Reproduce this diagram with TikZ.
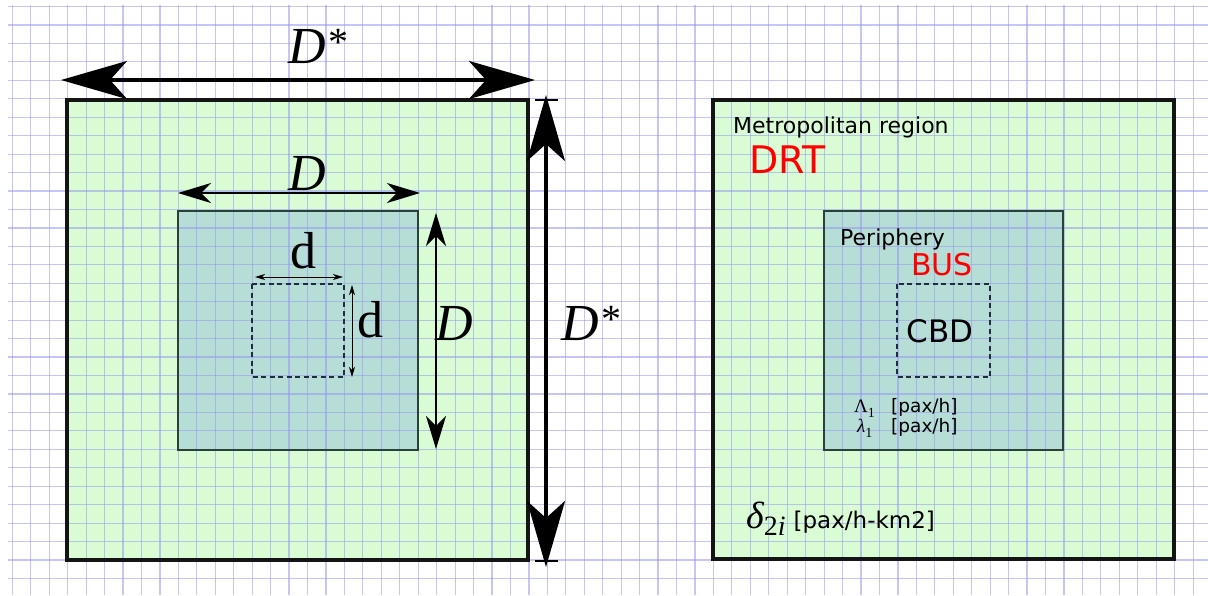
\documentclass[tikz,border=0pt]{standalone}
\usepackage{fontspec}
\setsansfont{DejaVu Sans}
\newfontfamily\timesf{Liberation Serif}
\usetikzlibrary{arrows.meta}

\definecolor{regiongreen}{RGB}{217,252,213}
\definecolor{periteal}{RGB}{182,221,214}
\definecolor{gridblue}{RGB}{150,150,240}
\definecolor{periedge}{RGB}{40,66,56}
\definecolor{cbdedge}{RGB}{30,45,60}

\newcommand\fsz[1]{\fontsize{#1}{#1}\selectfont}
\newcommand\dstar{{\itshape D}\kern3pt\raisebox{8pt}{\fsz{40}*}}

\begin{document}
\begin{tikzpicture}[x=1pt, y=-1pt,
  gridline/.style={draw=gridblue, opacity=0.55, line width=1.2pt},
  regionbox/.style={draw=black!92, line width=3.5pt},
  peribox/.style={draw=periedge, line width=2pt},
  cbdbox/.style={draw=cbdedge, line width=1.8pt, dash pattern=on 5pt off 3.5pt},
  bigdim/.style={line width=3.5pt, {Stealth[length=66pt, width=38pt, inset=17pt]}-{Stealth[length=66pt, width=38pt, inset=17pt]}},
  middim/.style={line width=2pt, {Stealth[length=33pt, width=20pt, inset=10pt]}-{Stealth[length=33pt, width=20pt, inset=10pt]}},
  smalldim/.style={line width=1pt, {Stealth[length=10pt, width=6pt, inset=3pt]}-{Stealth[length=10pt, width=6pt, inset=3pt]}},
  dimlbl/.style={font=\timesf\fsz{52}, inner sep=0pt, anchor=base west},
  lbl/.style={font=\sffamily\fsz{22}, inner sep=0pt, anchor=base west},
  mode/.style={font=\sffamily, text=red, inner sep=0pt, anchor=base west}]

  \useasboundingbox (0,0) rectangle (1208,595);

  % Fills first, the grid goes over them
  \fill[regiongreen] (67,100) rectangle (528,560);
  \fill[periteal] (178,211) rectangle (418,450);
  \fill[regiongreen] (713,100) rectangle (1174,559);
  \fill[periteal] (824,211) rectangle (1063,450);

  % Squared paper
  \foreach \k in {0,...,64}
    \draw[gridline] ({12.3+18.45*\k},5) -- ({12.3+18.45*\k},595);
  \foreach \k in {0,...,31}
    \draw[gridline] (8,{6.5+18.45*\k}) -- (1208,{6.5+18.45*\k});

  % Left panel: nested squares
  \draw[regionbox] (67,100) rectangle (528,560);
  \draw[peribox] (178,211) rectangle (418,450);
  \draw[cbdbox] (252,284) rectangle (344,377);

  % Dimension end points
  \coordinate (dstarL) at (61,80);
  \coordinate (dstarR) at (535,80);
  \coordinate (dstarT) at (546,95);
  \coordinate (dstarB) at (546,567);
  \coordinate (dL) at (178,193);
  \coordinate (dR) at (420,193);
  \coordinate (dT) at (436,213);
  \coordinate (dB) at (436,449);
  \coordinate (cL) at (255,277);
  \coordinate (cR) at (343,277);
  \coordinate (cT) at (352,285);
  \coordinate (cB) at (352,377);

  \draw[bigdim] (dstarL) -- (dstarR);
  \draw[bigdim] (dstarT) -- (dstarB);
  % end ticks of the vertical one (yshift is in page direction)
  \draw[line width=1.8pt] ([xshift=-11pt, yshift=-5pt]dstarT) -- ([xshift=12pt, yshift=-5pt]dstarT);
  \draw[line width=1.8pt] ([xshift=-11pt, yshift=6pt]dstarB) -- ([xshift=12pt, yshift=6pt]dstarB);
  \draw[middim] (dL) -- (dR);
  \draw[middim] (dT) -- (dB);
  \draw[smalldim] (cL) -- (cR);
  \draw[smalldim] (cT) -- (cB);

  \node[dimlbl] (lblDsTop) at (288,63) {\dstar};
  \node[dimlbl] (lblDsSide) at (561,340) {\dstar};
  \node[dimlbl] (lblDTop) at (288,190) {\itshape D};
  \node[dimlbl] (lblDSide) at (435,340) {\itshape D};
  \node[dimlbl] (lbldTop) at (290,268) {d};
  \node[dimlbl] (lbldSide) at (357,337) {d};

  % Right panel: regions and modes
  \draw[regionbox] (713,100) rectangle (1174,559);
  \draw[peribox] (824,211) rectangle (1063,450);
  \draw[cbdbox] (897,284) rectangle (990,377);

  \node[lbl] (metro) at (733,133) {Metropolitan region};
  \node[mode, font=\sffamily\fsz{38}] (drt) at (749,173) {DRT};
  \node[lbl] (peri) at (840,245) {Periphery};
  \node[mode, font=\sffamily\fsz{30}] (bus) at (911,275) {BUS};
  \node[font=\sffamily\fsz{31}, inner sep=0pt, anchor=base] (cbd) at (940,342) {CBD};

  \node[inner sep=0pt, anchor=base west] (flowA) at (854,412)
    {\makebox[37pt][l]{\timesf\fsz{19}Λ\raisebox{-5pt}{\fsz{14}1}}\sffamily\fsz{18.5}[pax/h]};
  \node[inner sep=0pt, anchor=base west] (flowB) at (857,432)
    {\makebox[34pt][l]{\timesf\fsz{19}\itshape λ\raisebox{-5pt}{\upshape\fsz{14}1}}\sffamily\fsz{18.5}[pax/h]};
  \node[inner sep=0pt, anchor=base west] (dens) at (746,528)
    {{\timesf\itshape\fsz{38}δ\raisebox{-7pt}{\fsz{28}\upshape 2\itshape i}}\hspace{8pt}{\sffamily\fsz{23}[pax/h-km2]}};

\end{tikzpicture}
\end{document}
